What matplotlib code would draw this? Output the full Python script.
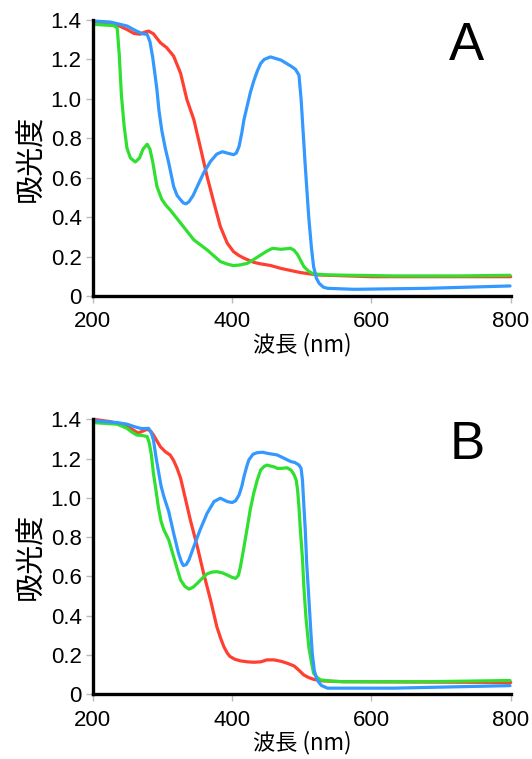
import matplotlib
matplotlib.use('Agg')
import matplotlib.pyplot as plt

plt.rcParams['font.family'] = ['Liberation Sans', 'Noto Sans CJK JP', 'DejaVu Sans']

# panel A
a_red_x = [201, 220, 235, 249, 259, 268, 274, 280, 287, 297, 306, 316, 326, 335, 345, 354, 364, 374, 383, 393, 402, 410, 417, 431, 441, 455, 470, 498, 522, 600, 800]
a_red_y = [1.39, 1.385, 1.375, 1.352, 1.332, 1.328, 1.338, 1.344, 1.33, 1.285, 1.26, 1.217, 1.13, 0.997, 0.895, 0.76, 0.607, 0.471, 0.353, 0.268, 0.225, 0.205, 0.192, 0.171, 0.163, 0.155, 0.14, 0.119, 0.107, 0.098, 0.098]

a_green_x = [201, 230, 235, 238, 241, 245, 249, 254, 261, 267, 272, 278, 282, 286, 292, 299, 305, 311, 326, 345, 364, 383, 393, 402, 412, 422, 431, 441, 450, 458, 470, 484, 489, 494, 503, 510, 517, 537, 632, 727, 799]
a_green_y = [1.378, 1.372, 1.36, 1.22, 1.02, 0.86, 0.75, 0.70, 0.68, 0.70, 0.745, 0.77, 0.745, 0.68, 0.556, 0.49, 0.46, 0.437, 0.37, 0.285, 0.234, 0.175, 0.162, 0.154, 0.158, 0.166, 0.185, 0.208, 0.228, 0.242, 0.237, 0.242, 0.232, 0.21, 0.149, 0.125, 0.112, 0.107, 0.102, 0.102, 0.105]

a_blue_x = [201, 225, 249, 262, 272, 278, 282, 286, 289, 292, 295, 299, 304, 309, 316, 321, 326, 330, 334, 338, 344, 350, 359, 369, 378, 386, 393, 402, 406, 410, 414, 417, 422, 426, 431, 436, 441, 446, 455, 470, 485, 491, 496, 499, 502, 505, 510, 514, 517, 521, 525, 531, 537, 575, 680, 799]
a_blue_y = [1.395, 1.39, 1.37, 1.345, 1.33, 1.327, 1.29, 1.21, 1.13, 1.047, 0.94, 0.84, 0.75, 0.675, 0.556, 0.51, 0.488, 0.472, 0.468, 0.478, 0.51, 0.556, 0.624, 0.683, 0.72, 0.732, 0.725, 0.717, 0.725, 0.759, 0.83, 0.895, 0.97, 1.03, 1.09, 1.14, 1.18, 1.2, 1.213, 1.197, 1.165, 1.15, 1.12, 1.0, 0.83, 0.66, 0.40, 0.24, 0.149, 0.09, 0.064, 0.045, 0.039, 0.034, 0.039, 0.051]

# panel B
b_red_x = [201, 225, 249, 258, 265, 272, 278, 283, 287, 292, 297, 304, 311, 316, 321, 326, 330, 340, 350, 359, 369, 378, 383, 388, 393, 397, 404, 412, 422, 431, 441, 450, 460, 470, 479, 489, 496, 503, 510, 517, 530, 560, 800]
b_red_y = [1.40, 1.388, 1.366, 1.345, 1.33, 1.34, 1.349, 1.34, 1.32, 1.29, 1.26, 1.235, 1.218, 1.19, 1.15, 1.1, 1.04, 0.887, 0.752, 0.616, 0.48, 0.344, 0.29, 0.243, 0.21, 0.192, 0.178, 0.17, 0.165, 0.163, 0.165, 0.175, 0.175, 0.168, 0.158, 0.144, 0.122, 0.098, 0.085, 0.076, 0.068, 0.064, 0.06]

b_green_x = [201, 235, 249, 256, 263, 270, 278, 281, 284, 287, 291, 294, 298, 302, 309, 316, 321, 326, 332, 338, 344, 350, 357, 364, 371, 378, 386, 393, 400, 405, 409, 412, 417, 422, 426, 431, 436, 441, 446, 450, 455, 460, 465, 470, 479, 485, 489, 492, 494, 496, 498, 501, 503, 506, 510, 514, 517, 522, 527, 545, 560, 680, 799]
b_green_y = [1.383, 1.375, 1.354, 1.335, 1.32, 1.318, 1.312, 1.28, 1.22, 1.125, 1.03, 0.955, 0.88, 0.837, 0.786, 0.70, 0.64, 0.582, 0.55, 0.535, 0.545, 0.565, 0.59, 0.613, 0.622, 0.624, 0.618, 0.607, 0.595, 0.59, 0.605, 0.65, 0.75, 0.854, 0.94, 1.023, 1.09, 1.142, 1.16, 1.167, 1.162, 1.158, 1.15, 1.15, 1.153, 1.14, 1.117, 1.09, 1.04, 0.95, 0.837, 0.69, 0.548, 0.39, 0.243, 0.16, 0.107, 0.085, 0.073, 0.066, 0.064, 0.064, 0.07]

b_blue_x = [201, 235, 249, 260, 268, 274, 280, 284, 287, 291, 294, 298, 302, 309, 316, 323, 327, 330, 334, 338, 345, 354, 364, 374, 383, 393, 400, 405, 410, 414, 417, 421, 424, 430, 436, 444, 450, 465, 484, 490, 496, 499, 501, 503, 505, 507, 510, 513, 515, 518, 522, 528, 537, 632, 799]
b_blue_y = [1.393, 1.383, 1.375, 1.362, 1.354, 1.352, 1.354, 1.33, 1.295, 1.2, 1.14, 1.06, 1.006, 0.93, 0.82, 0.718, 0.675, 0.655, 0.66, 0.684, 0.752, 0.837, 0.921, 0.981, 0.998, 0.981, 0.976, 0.985, 1.015, 1.06, 1.108, 1.16, 1.193, 1.222, 1.23, 1.232, 1.227, 1.218, 1.185, 1.18, 1.167, 1.15, 1.09, 0.96, 0.837, 0.67, 0.497, 0.32, 0.209, 0.12, 0.073, 0.045, 0.031, 0.031, 0.044]

panels = [
    ('A', [0.1745, 0.61, 0.7855, 0.3636], a_red_x, a_red_y, a_green_x, a_green_y, a_blue_x, a_blue_y),
    ('B', [0.1745, 0.0853, 0.7855, 0.3623], b_red_x, b_red_y, b_green_x, b_green_y, b_blue_x, b_blue_y),
]

RED = '#ff3f30'
GREEN = '#30e030'
BLUE = '#3399ff'

fig = plt.figure(figsize=(5.32, 7.59), dpi=100)
for name, rect, rx, ry, gx, gy, bx, by in panels:
    ax = fig.add_axes(rect)
    kw = dict(lw=2.3, solid_joinstyle='round', solid_capstyle='round', clip_on=False)
    ax.plot(rx, ry, color=RED, **kw)
    ax.plot(gx, gy, color=GREEN, **kw)
    ax.plot(bx, by, color=BLUE, **kw)
    ax.set_xlim(200, 800)
    ax.set_ylim(0, 1.4)
    ax.set_xticks([200, 400, 600, 800])
    ax.set_yticks([0, 0.2, 0.4, 0.6, 0.8, 1.0, 1.2, 1.4])
    ax.set_yticklabels(['0', '0.2', '0.4', '0.6', '0.8', '1.0', '1.2', '1.4'])
    for s in ['top', 'right']:
        ax.spines[s].set_visible(False)
    for s in ['left', 'bottom']:
        ax.spines[s].set_linewidth(2.4)
        ax.spines[s].set_color('black')
    ax.tick_params(length=5, width=1, color='#bbbbbb', labelsize=16, pad=3)
    ax.tick_params(axis='x', pad=6)
    ax.set_ylabel('吸光度', fontsize=21, family=['Noto Sans CJK JP'], labelpad=3)
    ax.set_xlabel('波長 (nm)', fontsize=16, family=['Noto Sans CJK JP', 'Liberation Sans'], labelpad=0)
    ax.text(0.895, 0.905, name, transform=ax.transAxes, fontsize=38, ha='center', va='center')

fig.savefig('out.png', dpi=100)
